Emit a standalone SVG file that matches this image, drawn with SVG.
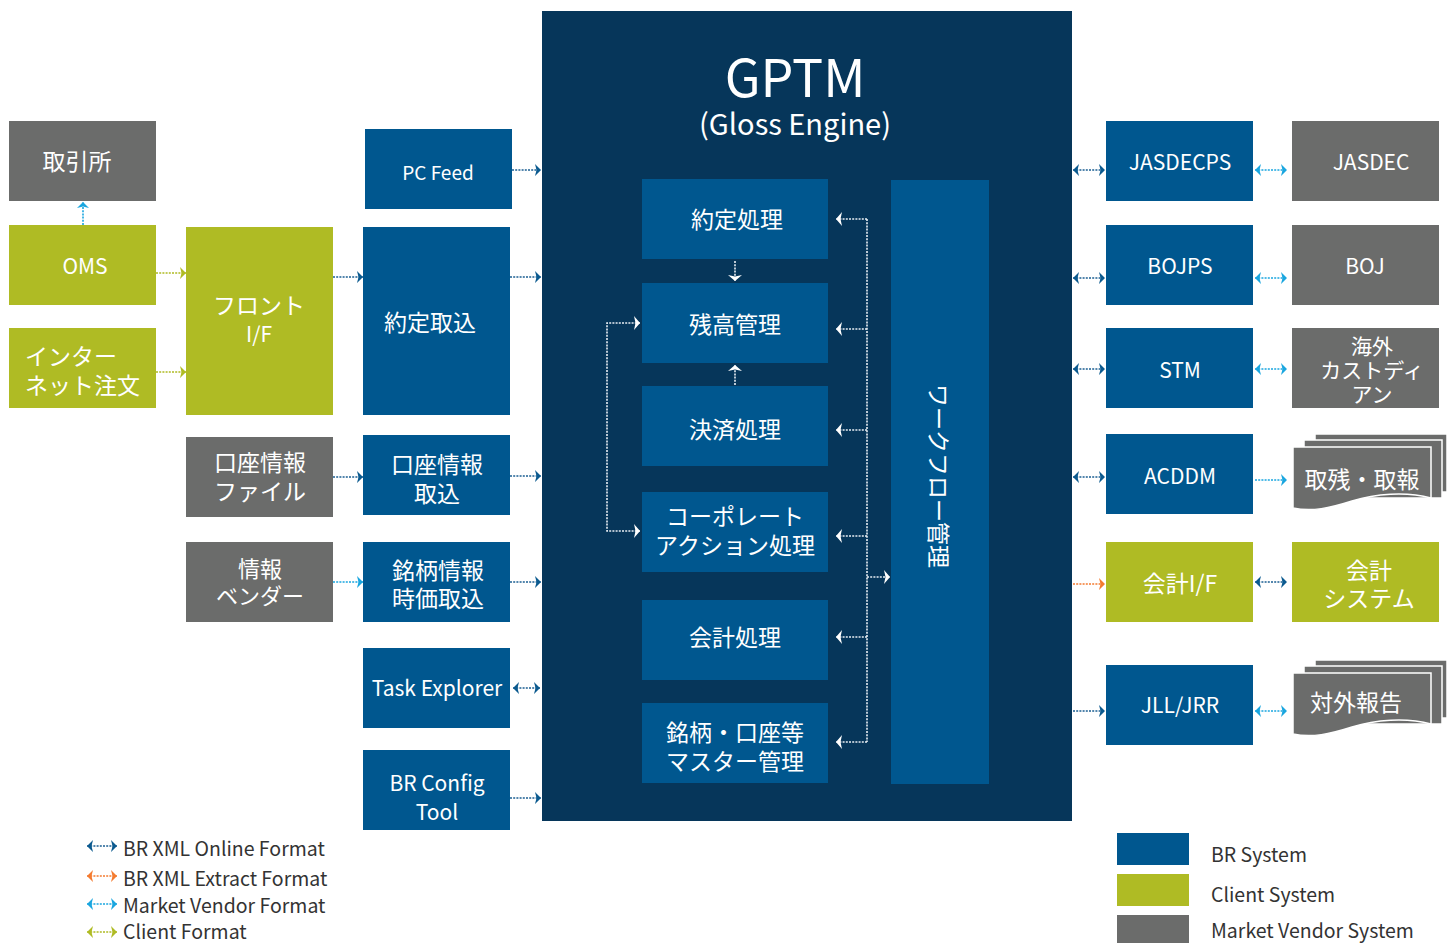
<svg xmlns="http://www.w3.org/2000/svg" width="1447" height="943" viewBox="0 0 1447 943" font-size="23">
<style>
text{font-family:"Noto Sans CJK JP","Noto Sans",sans-serif;fill:#fff;text-anchor:middle;dominant-baseline:central}
.br{fill:#00578f}.cl{fill:#afbb24}.mv{fill:#6b6c6b}
.c{fill:none;stroke-width:1.6;stroke-dasharray:2 1.2}
.dk{stroke:#1b5f93}.lb{stroke:#1aa6df}.or{stroke:#f47b30}.ol{stroke:#afbb24}.wh{stroke:#e8eef3}
text.lg{fill:#333;text-anchor:start;font-size:19.5px}
.sheet{stroke:#fff;stroke-width:1.5}
</style>
<defs>
<marker id="aDK" viewBox="0 0 6 12" refX="6" refY="6" markerWidth="6" markerHeight="12" markerUnits="userSpaceOnUse" orient="auto-start-reverse"><path d="M0,0 L6,6 L0,12 L1.5,6 Z" fill="#0b5a8f"/></marker>
<marker id="aLB" viewBox="0 0 6 12" refX="6" refY="6" markerWidth="6" markerHeight="12" markerUnits="userSpaceOnUse" orient="auto-start-reverse"><path d="M0,0 L6,6 L0,12 L1.5,6 Z" fill="#1aa6df"/></marker>
<marker id="aOR" viewBox="0 0 6 12" refX="6" refY="6" markerWidth="6" markerHeight="12" markerUnits="userSpaceOnUse" orient="auto-start-reverse"><path d="M0,0 L6,6 L0,12 L1.5,6 Z" fill="#f47b30"/></marker>
<marker id="aOL" viewBox="0 0 6 12" refX="6" refY="6" markerWidth="6" markerHeight="12" markerUnits="userSpaceOnUse" orient="auto-start-reverse"><path d="M0,0 L6,6 L0,12 L1.5,6 Z" fill="#afbb24"/></marker>
<marker id="aWH" viewBox="0 0 6 14" refX="6" refY="7" markerWidth="6" markerHeight="14" markerUnits="userSpaceOnUse" orient="auto-start-reverse"><path d="M0,0 L6,7 L0,14 L1.5,7 Z" fill="#fff"/></marker>
<g id="docstack">
<rect class="sheet mv" x="1315" y="434" width="132" height="58"/>
<rect class="sheet mv" x="1304" y="440" width="138" height="58"/>
<path class="sheet mv" d="M1293,447 H1431 V498 C1405,491 1375,494 1352,501 C1330,508 1312,512 1293,508 Z"/>
</g>
</defs>

<!-- GPTM container -->
<g id="gptm">
<rect x="542" y="11" width="530" height="810" fill="#06365a"/>
<text x="795" y="74" font-size="52">GPTM</text>
<text x="795" y="122" font-size="29">(Gloss Engine)</text>
</g>

<!-- Left nodes -->
<g id="n-torihikisho"><rect class="mv" x="9" y="121" width="147" height="80"/><text x="77" y="160">取引所</text></g>
<g id="n-oms"><rect class="cl" x="9" y="225" width="147" height="80"/><text x="85" y="265" font-size="21">OMS</text></g>
<g id="n-internet"><rect class="cl" x="9" y="328" width="147" height="80"/><text x="25" y="355" style="text-anchor:start">インター</text><text x="25" y="384" style="text-anchor:start">ネット注文</text></g>
<g id="n-front"><rect class="cl" x="186" y="227" width="147" height="188"/><text x="259" y="304">フロント</text><text x="259" y="333" font-size="21">I/F</text></g>
<g id="n-kozafile"><rect class="mv" x="186" y="437" width="147" height="80"/><text x="260" y="461">口座情報</text><text x="260" y="490">ファイル</text></g>
<g id="n-vendor"><rect class="mv" x="186" y="542" width="147" height="80"/><text x="260" y="567" font-size="22">情報</text><text x="260" y="594" font-size="22">ベンダー</text></g>

<g id="n-pcfeed"><rect class="br" x="365" y="129" width="147" height="80"/><text x="438" y="171" font-size="19">PC Feed</text></g>
<g id="n-yakuteitorikomi"><rect class="br" x="363" y="227" width="147" height="188"/><text x="430" y="321">約定取込</text></g>
<g id="n-kozatorikomi"><rect class="br" x="363" y="435" width="147" height="80"/><text x="437" y="463">口座情報</text><text x="437" y="492">取込</text></g>
<g id="n-meigara"><rect class="br" x="363" y="542" width="147" height="80"/><text x="438" y="569">銘柄情報</text><text x="438" y="597">時価取込</text></g>
<g id="n-task"><rect class="br" x="363" y="648" width="147" height="80"/><text x="437" y="687" font-size="21">Task Explorer</text></g>
<g id="n-brconfig"><rect class="br" x="363" y="750" width="147" height="80"/><text x="437" y="782" font-size="21">BR Config</text><text x="437" y="811" font-size="21">Tool</text></g>

<!-- Inner GPTM nodes -->
<g id="n-yakutei"><rect class="br" x="642" y="179" width="186" height="80"/><text x="737" y="218">約定処理</text></g>
<g id="n-zandaka"><rect class="br" x="642" y="283" width="186" height="80"/><text x="735" y="323">残高管理</text></g>
<g id="n-kessai"><rect class="br" x="642" y="386" width="186" height="80"/><text x="735" y="428">決済処理</text></g>
<g id="n-corp"><rect class="br" x="642" y="492" width="186" height="80"/><text x="735" y="515">コーポレート</text><text x="735" y="544">アクション処理</text></g>
<g id="n-kaikeishori"><rect class="br" x="642" y="600" width="186" height="80"/><text x="735" y="636">会計処理</text></g>
<g id="n-master"><rect class="br" x="642" y="703" width="186" height="80"/><text x="735" y="731">銘柄・口座等</text><text x="735" y="760">マスター管理</text></g>
<g id="n-workflow"><rect class="br" x="891" y="180" width="98" height="604"/><text transform="translate(940,476) rotate(90)">ワークフロー管理</text></g>

<!-- Right nodes -->
<g id="n-jasdecps"><rect class="br" x="1106" y="121" width="147" height="80"/><text x="1180" y="161" font-size="21">JASDECPS</text></g>
<g id="n-bojps"><rect class="br" x="1106" y="225" width="147" height="80"/><text x="1180" y="265" font-size="21">BOJPS</text></g>
<g id="n-stm"><rect class="br" x="1106" y="328" width="147" height="80"/><text x="1180" y="369" font-size="21">STM</text></g>
<g id="n-acddm"><rect class="br" x="1106" y="434" width="147" height="80"/><text x="1180" y="475" font-size="21">ACDDM</text></g>
<g id="n-kaikeiif"><rect class="cl" x="1106" y="542" width="147" height="80"/><text x="1180" y="582">会計I/F</text></g>
<g id="n-jll"><rect class="br" x="1106" y="665" width="147" height="80"/><text x="1180" y="704" font-size="21">JLL/JRR</text></g>

<g id="n-jasdec"><rect class="mv" x="1292" y="121" width="147" height="80"/><text x="1371" y="161" font-size="21">JASDEC</text></g>
<g id="n-boj"><rect class="mv" x="1292" y="225" width="147" height="80"/><text x="1365" y="265" font-size="21">BOJ</text></g>
<g id="n-custodian"><rect class="mv" x="1292" y="328" width="147" height="80"/><text x="1372" y="345" font-size="21">海外</text><text x="1372" y="369" font-size="21">カストディ</text><text x="1372" y="393" font-size="21">アン</text></g>
<g id="n-torizan"><use href="#docstack"/><text x="1362" y="478">取残・取報</text></g>
<g id="n-kaikeisys"><rect class="cl" x="1292" y="542" width="147" height="80"/><text x="1369" y="569">会計</text><text x="1369" y="597">システム</text></g>
<g id="n-taigai"><use href="#docstack" transform="translate(0,226)"/><text x="1356" y="701">対外報告</text></g>

<!-- Connectors -->
<g id="connectors">
<line class="c lb" x1="83" y1="225" x2="83" y2="202" marker-end="url(#aLB)"/>
<line class="c ol" x1="156" y1="273" x2="186" y2="273" marker-end="url(#aOL)"/>
<line class="c ol" x1="156" y1="372" x2="186" y2="372" marker-end="url(#aOL)"/>
<line class="c dk" x1="333" y1="277" x2="363" y2="277" marker-end="url(#aDK)"/>
<line class="c dk" x1="333" y1="477" x2="363" y2="477" marker-end="url(#aDK)"/>
<line class="c lb" x1="333" y1="582" x2="363" y2="582" marker-end="url(#aLB)"/>
<line class="c dk" x1="512" y1="170" x2="541" y2="170" marker-end="url(#aDK)"/>
<line class="c dk" x1="510" y1="277" x2="541" y2="277" marker-end="url(#aDK)"/>
<line class="c dk" x1="510" y1="476" x2="541" y2="476" marker-end="url(#aDK)"/>
<line class="c dk" x1="510" y1="582" x2="541" y2="582" marker-end="url(#aDK)"/>
<line class="c dk" x1="513" y1="688" x2="540" y2="688" marker-start="url(#aDK)" marker-end="url(#aDK)"/>
<line class="c dk" x1="510" y1="798" x2="541" y2="798" marker-end="url(#aDK)"/>

<line class="c dk" x1="1073" y1="170" x2="1105" y2="170" marker-start="url(#aDK)" marker-end="url(#aDK)"/>
<line class="c lb" x1="1255" y1="170" x2="1287" y2="170" marker-start="url(#aLB)" marker-end="url(#aLB)"/>
<line class="c dk" x1="1073" y1="278" x2="1105" y2="278" marker-start="url(#aDK)" marker-end="url(#aDK)"/>
<line class="c lb" x1="1255" y1="278" x2="1287" y2="278" marker-start="url(#aLB)" marker-end="url(#aLB)"/>
<line class="c dk" x1="1073" y1="369" x2="1105" y2="369" marker-start="url(#aDK)" marker-end="url(#aDK)"/>
<line class="c lb" x1="1255" y1="369" x2="1287" y2="369" marker-start="url(#aLB)" marker-end="url(#aLB)"/>
<line class="c dk" x1="1073" y1="477" x2="1105" y2="477" marker-start="url(#aDK)" marker-end="url(#aDK)"/>
<line class="c lb" x1="1255" y1="480" x2="1287" y2="480" marker-end="url(#aLB)"/>
<line class="c or" x1="1073" y1="584" x2="1105" y2="584" marker-end="url(#aOR)"/>
<line class="c dk" x1="1255" y1="582" x2="1287" y2="582" marker-start="url(#aDK)" marker-end="url(#aDK)"/>
<line class="c dk" x1="1073" y1="711" x2="1105" y2="711" marker-end="url(#aDK)"/>
<line class="c lb" x1="1255" y1="711" x2="1287" y2="711" marker-start="url(#aLB)" marker-end="url(#aLB)"/>

<line class="c wh" x1="735" y1="261" x2="735" y2="281" marker-end="url(#aWH)"/>
<line class="c wh" x1="735" y1="385" x2="735" y2="365" marker-end="url(#aWH)"/>
<path class="c wh" d="M640,323 H607 V531 H640" marker-start="url(#aWH)" marker-end="url(#aWH)"/>
<path class="c wh" d="M867,219 V742"/>
<line class="c wh" x1="867" y1="219" x2="836" y2="219" marker-end="url(#aWH)"/>
<line class="c wh" x1="867" y1="329" x2="836" y2="329" marker-end="url(#aWH)"/>
<line class="c wh" x1="867" y1="430" x2="836" y2="430" marker-end="url(#aWH)"/>
<line class="c wh" x1="867" y1="536" x2="836" y2="536" marker-end="url(#aWH)"/>
<line class="c wh" x1="867" y1="637" x2="836" y2="637" marker-end="url(#aWH)"/>
<line class="c wh" x1="867" y1="742" x2="836" y2="742" marker-end="url(#aWH)"/>
<line class="c wh" x1="867" y1="577" x2="890" y2="577" marker-end="url(#aWH)"/>
</g>

<!-- Legend -->
<g id="legend">
<line class="c dk" x1="87" y1="846" x2="117" y2="846" marker-start="url(#aDK)" marker-end="url(#aDK)"/>
<text class="lg" x="123" y="847">BR XML Online Format</text>
<line class="c or" x1="87" y1="876" x2="117" y2="876" marker-start="url(#aOR)" marker-end="url(#aOR)"/>
<text class="lg" x="123" y="877">BR XML Extract Format</text>
<line class="c lb" x1="87" y1="904" x2="117" y2="904" marker-start="url(#aLB)" marker-end="url(#aLB)"/>
<text class="lg" x="123" y="904">Market Vendor Format</text>
<line class="c ol" x1="87" y1="932" x2="117" y2="932" marker-start="url(#aOL)" marker-end="url(#aOL)"/>
<text class="lg" x="123" y="930">Client Format</text>

<rect class="br" x="1117" y="833" width="72" height="32"/>
<text class="lg" x="1211" y="853">BR System</text>
<rect class="cl" x="1117" y="874" width="72" height="32"/>
<text class="lg" x="1211" y="893">Client System</text>
<rect class="mv" x="1117" y="915" width="72" height="28"/>
<text class="lg" x="1211" y="929">Market Vendor System</text>
</g>
</svg>
